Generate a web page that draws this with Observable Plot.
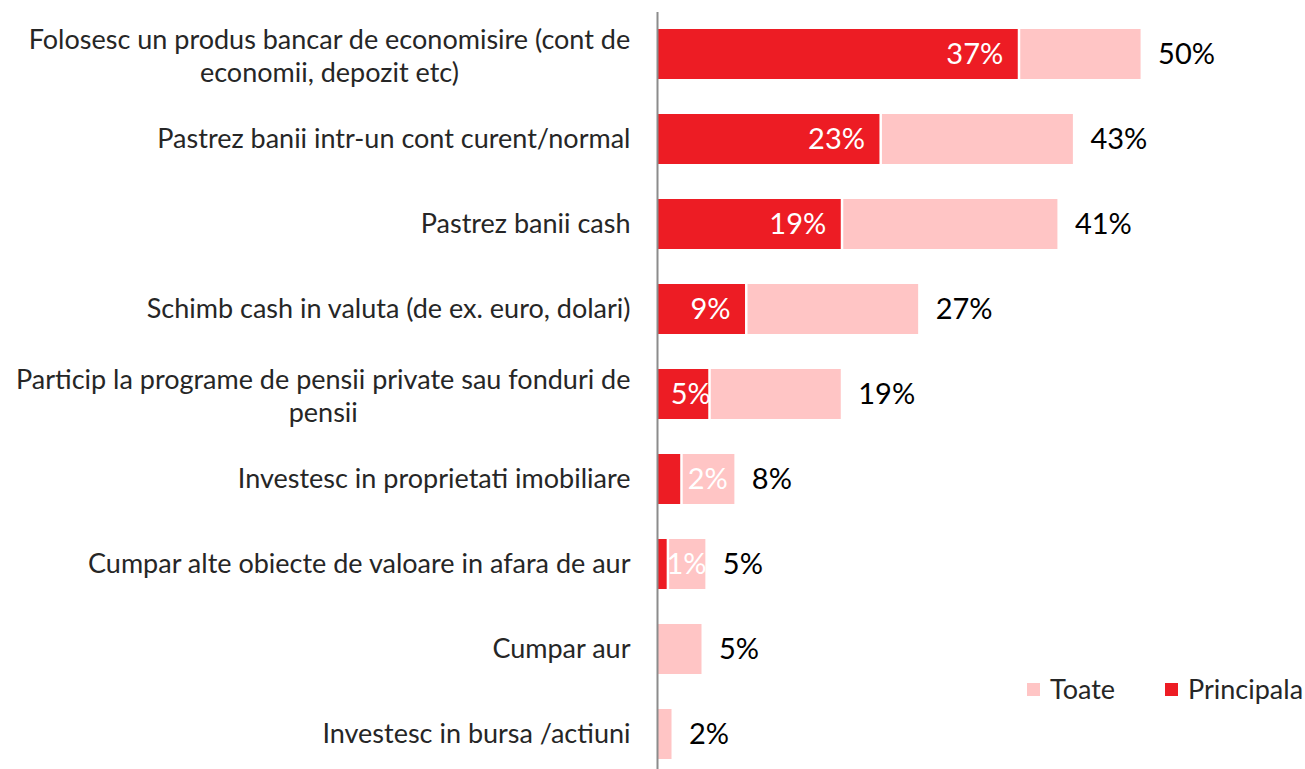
<!DOCTYPE html>
<html><head><meta charset="utf-8">
<script src="https://cdn.jsdelivr.net/npm/d3@7"></script>
<script src="https://cdn.jsdelivr.net/npm/@observablehq/plot@0.6"></script>
<style>
body{margin:0;background:#fff;font-family:Lato,"Open Sans",sans-serif;}
#wrap{position:relative;width:1305px;height:769px;overflow:hidden;}
#legend{position:absolute;top:672px;left:0;width:1305px;height:34px;font-size:27px;color:#262626;}
#legend .sw{position:absolute;top:11px;width:13px;height:13px;}
#legend .lb{position:absolute;top:0;line-height:34px;white-space:nowrap;}
</style></head><body><div id="wrap"><div id="legend"></div></div>
<script>
const categories = [
  "Folosesc un produs bancar de economisire (cont de\neconomii, depozit etc)",
  "Pastrez banii intr-un cont curent/normal",
  "Pastrez banii cash",
  "Schimb cash in valuta (de ex. euro, dolari)",
  "Particip la programe de pensii private sau fonduri de\npensii",
  "Investesc in proprietati imobiliare",
  "Cumpar alte obiecte de valoare in afara de aur",
  "Cumpar aur",
  "Investesc in bursa /actiuni"
];
const principala = [37.3, 23.0, 19.0, 9.1, 5.3, 2.4, 1.0, null, null];
const toate = [50.0, 43.0, 41.4, 27.0, 19.0, 8.0, 5.0, 4.6, 1.5];
const seriesNames = ["Toate", "Principala"];
const seriesColors = ["#FFC5C5", "#ED1C24"];

const rows = categories.map((c, i) => ({cat: c, p: principala[i], t: toate[i]}));
const withP = rows.filter(d => d.p != null);
const fmt = v => Math.round(v) + "%";

const FONT = "Lato";
const catSize = 27, valSize = 29;
const ctx = document.createElement("canvas").getContext("2d");
ctx.font = `${catSize}px ${FONT}`;

const catMarks = rows.map(d => {
  const lines = d.cat.split("\n");
  if (lines.length === 1) {
    return Plot.text([d], {x: 0, y: "cat", text: "cat", textAnchor: "end", dx: -27, fontSize: catSize, fill: "#262626"});
  }
  const w = Math.max(...lines.map(l => ctx.measureText(l).width));
  return Plot.text([d], {x: 0, y: "cat", text: "cat", textAnchor: "middle", dx: -27 - w / 2, lineHeight: 1.22, fontSize: catSize, fill: "#262626"});
});

const chart = Plot.plot({
  width: 1305,
  height: 769,
  marginTop: 12,
  marginBottom: 0,
  marginLeft: 657,
  marginRight: 67.7,
  style: {fontFamily: FONT, background: "#fff"},
  x: {domain: [0, 60], axis: null},
  y: {domain: categories, range: [12, 777], paddingInner: 0.41, paddingOuter: 0.205, axis: null},
  marks: [
    Plot.barX(rows.filter(d => d.p != null), {x1: "p", x2: "t", y: "cat", fill: seriesColors[0], insetLeft: 2.5}),
    Plot.barX(rows.filter(d => d.p == null), {x1: 0, x2: "t", y: "cat", fill: seriesColors[0]}),
    Plot.barX(withP, {x1: 0, x2: "p", y: "cat", fill: seriesColors[1]}),
    Plot.text(withP.filter(d => d.p >= 9), {x: "p", y: "cat", text: d => fmt(d.p), textAnchor: "end", dx: -15, fontSize: valSize, fill: "#fff"}),
    Plot.text(withP.filter(d => d.p >= 3 && d.p < 9), {x: "p", y: "cat", text: d => fmt(d.p), textAnchor: "end", dx: 2, fontSize: valSize, fill: "#fff"}),
    Plot.text(withP.filter(d => d.p < 3), {x: d => (d.p + d.t) / 2, y: "cat", text: d => fmt(d.p), textAnchor: "middle", dx: 0, fontSize: valSize, fill: "#fff"}),
    Plot.text(rows, {x: "t", y: "cat", text: d => fmt(d.t), textAnchor: "start", dx: 17, fontSize: valSize, fill: "#000"}),
    ...catMarks,
    Plot.ruleX([0], {stroke: "#8c8c8c", strokeWidth: 2})
  ]
});
const wrap = document.getElementById("wrap");
wrap.insertBefore(chart, wrap.firstChild);

const legend = document.getElementById("legend");
const legendPos = [[1027, 1050], [1165, 1188]];
seriesNames.forEach((name, i) => {
  const sw = document.createElement("div");
  sw.className = "sw"; sw.style.left = legendPos[i][0] + "px"; sw.style.background = seriesColors[i];
  const lb = document.createElement("div");
  lb.className = "lb"; lb.style.left = legendPos[i][1] + "px"; lb.textContent = name;
  legend.appendChild(sw); legend.appendChild(lb);
});
</script>
</body></html>
